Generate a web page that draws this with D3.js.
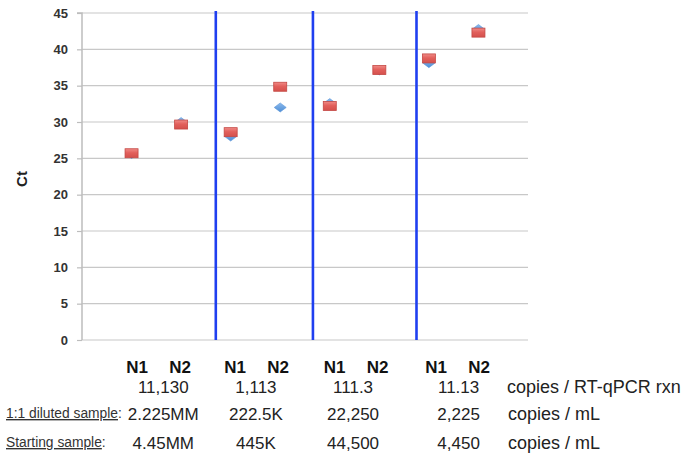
<!DOCTYPE html>
<html>
<head>
<meta charset="utf-8">
<script src="https://cdn.jsdelivr.net/npm/d3@7"></script>
<style>
  body { margin: 0; background: #fff; }
  svg { display: block; font-family: "Liberation Sans", Arial, sans-serif; }
</style>
</head>
<body>
<svg id="chart" width="682" height="456"></svg>
<script>
// ---- data ----
const targets = ["N1", "N2", "N1", "N2", "N1", "N2", "N1", "N2"];
const redSeries = [25.7, 29.65, 28.6, 34.85, 32.2, 37.15, 38.75, 42.3];
const blueSeries = [25.6, 30.0, 28.0, 32.0, 32.6, 37.1, 38.1, 42.8];
const yTicks = [0, 5, 10, 15, 20, 25, 30, 35, 40, 45];
const separators = [2.7, 4.66, 6.75];
const copiesPerRxn = ["11,130", "1,113", "111.3", "11.13"];
const dilutedPerMl = ["2.225MM", "222.5K", "22,250", "2,225"];
const startingPerMl = ["4.45MM", "445K", "44,500", "4,450"];
const rowUnits = ["copies / RT-qPCR rxn", "copies / mL", "copies / mL"];
const rowNames = ["", "1:1 diluted sample", "Starting sample"];

// ---- layout ----
const svg = d3.select("#chart");
const pLeft = 82, pRight = 528, pTop = 13, pBottom = 340;
const x = d3.scaleLinear().domain([0, 9]).range([pLeft, pRight]);
const y = d3.scaleLinear().domain([0, 45]).range([pBottom, pTop]);

// gradients
const defs = svg.append("defs");
const rg = defs.append("linearGradient").attr("id", "redg").attr("x1", 0).attr("y1", 0).attr("x2", 0).attr("y2", 1);
rg.append("stop").attr("offset", "0%").attr("stop-color", "#f08a86");
rg.append("stop").attr("offset", "45%").attr("stop-color", "#e2605c");
rg.append("stop").attr("offset", "100%").attr("stop-color", "#d4504c");
const bg = defs.append("linearGradient").attr("id", "blueg").attr("x1", 0).attr("y1", 0).attr("x2", 0).attr("y2", 1);
bg.append("stop").attr("offset", "0%").attr("stop-color", "#8ab8ec");
bg.append("stop").attr("offset", "100%").attr("stop-color", "#4f8fd6");

// gridlines
svg.append("g").selectAll("line").data(yTicks).join("line")
  .attr("x1", pLeft).attr("x2", pRight)
  .attr("y1", d => y(d)).attr("y2", d => y(d))
  .attr("stroke", "#c8c8c8").attr("stroke-width", 1.2);

// y axis
const yAxis = d3.axisLeft(y).tickValues(yTicks).tickSize(5).tickPadding(9);
const ga = svg.append("g").attr("transform", `translate(${pLeft},0)`).call(yAxis);
ga.select(".domain").attr("stroke", "#bdbdbd").attr("stroke-width", 1.5)
  .attr("d", `M-5,${y(45)}H0V${y(0)}`);
ga.selectAll(".tick line").attr("stroke", "#bdbdbd").attr("stroke-width", 1.2);
ga.selectAll(".tick text").attr("font-size", 13).attr("font-weight", "bold")
  .attr("fill", "#333").attr("font-family", "Liberation Sans, Arial, sans-serif");

// y label
svg.append("text").attr("transform", `translate(27,179) rotate(-90)`)
  .attr("text-anchor", "middle").attr("font-size", 15).attr("font-weight", "bold")
  .attr("fill", "#222").text("Ct");

// separators
svg.append("g").selectAll("line").data(separators).join("line")
  .attr("x1", d => x(d)).attr("x2", d => x(d))
  .attr("y1", 11).attr("y2", pBottom)
  .attr("stroke", "#1f3ff0").attr("stroke-width", 2.6);

// blue diamonds
svg.append("g").selectAll("path").data(blueSeries).join("path")
  .attr("d", (d, i) => {
    const cx = x(i + 1), cy = y(d);
    return `M${cx},${cy - 4.5}L${cx + 6},${cy}L${cx},${cy + 4.5}L${cx - 6},${cy}Z`;
  })
  .attr("fill", "url(#blueg)").attr("stroke", "#5a96d8").attr("stroke-width", 0.6);

// red squares
svg.append("g").selectAll("rect").data(redSeries).join("rect")
  .attr("x", (d, i) => x(i + 1) - 6.5).attr("y", d => y(d) - 4.5)
  .attr("width", 13).attr("height", 9)
  .attr("fill", "url(#redg)").attr("stroke", "#c44844").attr("stroke-width", 0.8);

// category labels
const nCols = [1.545, 3.525, 5.53, 7.58];
svg.append("g").selectAll("text").data(targets).join("text")
  .attr("x", (d, i) => x(nCols[Math.floor(i / 2)]) + (i % 2 === 0 ? -21.5 : 21.5))
  .attr("y", 373).attr("text-anchor", "middle")
  .attr("font-size", 17).attr("font-weight", "bold").attr("fill", "#111").text(d => d);

// value rows
const valCols = [1.64, 3.51, 5.47, 7.6];
const rows = [copiesPerRxn, dilutedPerMl, startingPerMl];
const rowY = [393, 420, 449];
rows.forEach((arr, r) => {
  svg.append("g").selectAll("text").data(arr).join("text")
    .attr("x", (d, i) => x(valCols[i])).attr("y", rowY[r])
    .attr("text-anchor", "middle").attr("font-size", 17).attr("fill", "#222").text(d => d);
  svg.append("text").attr("x", r === 0 ? 507 : 508).attr("y", rowY[r])
    .attr("font-size", 18).attr("fill", "#222").text(rowUnits[r]);
  if (rowNames[r]) {
    const t = svg.append("text").attr("x", 6).attr("y", rowY[r] - 2)
      .attr("font-size", 13.8).attr("fill", "#333");
    t.append("tspan").attr("text-decoration", "underline").text(rowNames[r]);
    t.append("tspan").text(":");
  }
});
</script>
</body>
</html>
